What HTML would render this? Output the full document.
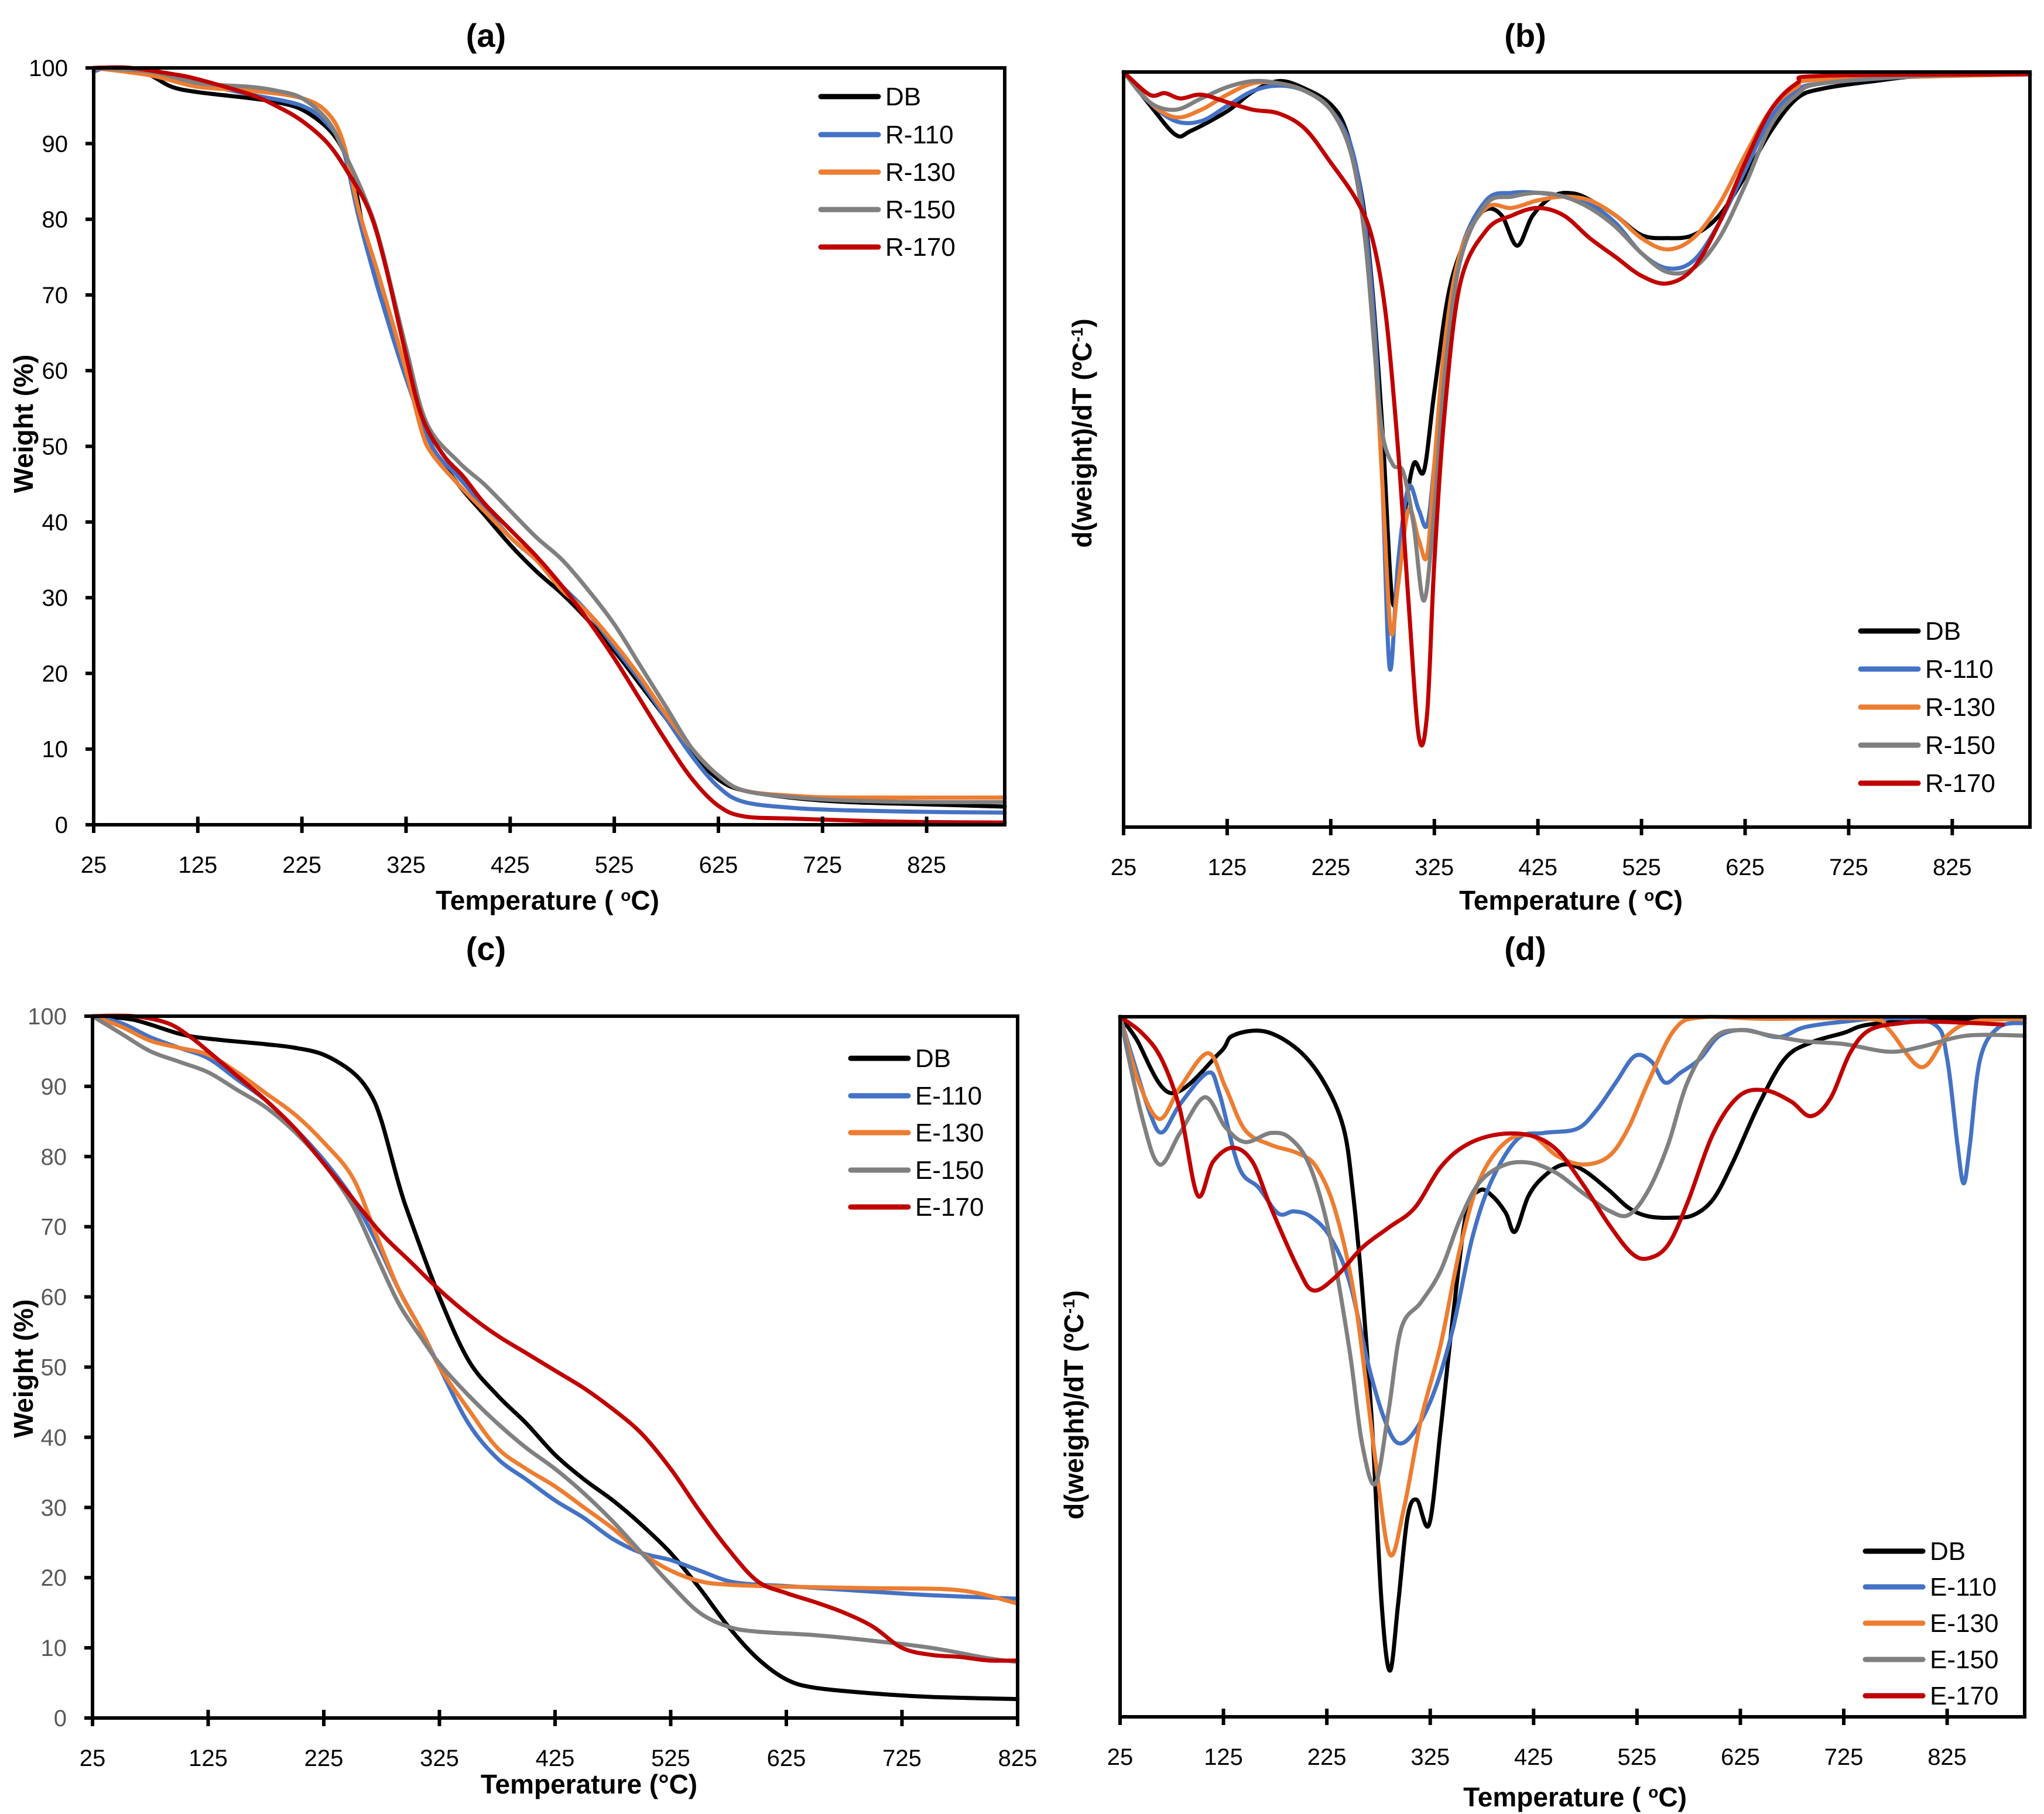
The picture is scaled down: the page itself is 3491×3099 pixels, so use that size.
<!DOCTYPE html>
<html><head><meta charset="utf-8"><style>
html,body{margin:0;padding:0;background:#fff}
svg{display:block}
text{font-family:"Liberation Sans",sans-serif}
</style></head><body>
<svg id="fig" width="3491" height="3099" viewBox="0 0 3491 3099" xmlns="http://www.w3.org/2000/svg">
<g id="root"></g>
</svg>
<script>
// ---- Panel (a) data: weight % vs temperature ----
const aDB_T=[25,60,80,100,125,175,200,225,250,265,275,285,300,325,350,375,400,425,450,475,500,525,550,575,600,625,650,700,750,825,900];
const aDB_V=[100,100,99,97.5,96.8,96,95.5,94.5,92,89,85,78,70,60,50,45,41,37,33.5,30.5,27,23,18.5,14,9.5,6,4.5,3.5,3,2.7,2.4];
const aR110_T=[25,40,80,125,175,225,250,265,280,300,325,350,375,400,425,450,475,500,525,550,575,600,625,650,700,750,825,900];
const aR110_V=[99.5,100,99.5,98,96.5,95,92.5,89,80,70,59,50,46,42,38,35,31.5,28,23.5,19,14,9,5,3,2.2,1.9,1.7,1.6];
const aR130_T=[25,80,125,175,225,250,265,280,300,325,340,350,375,400,425,450,475,500,525,550,575,600,625,650,700,750,900];
const aR130_V=[100,99,97.5,97,96,94,90,81,72,60,52,49,45,41.5,38,35,31,28,24,19.5,14.5,10,6.5,4.5,3.8,3.6,3.6];
const aR150_T=[25,80,125,175,200,225,250,265,285,300,325,345,375,400,425,450,475,500,525,550,575,600,625,650,700,750,825,900];
const aR150_V=[100,99.5,98,97.5,97,96,93,89,83,77,63,53,48,45,41.5,38,35,31,26.5,21,15.5,10,6.5,4.5,3.6,3.2,3.0,3.0];
const aR170_T=[25,60,100,125,175,200,225,250,270,290,305,325,340,360,380,400,425,450,475,500,525,550,575,600,625,650,700,800,900];
const aR170_V=[100,100,99.2,98.5,96.5,95,93,90,86,81,74,62,54,49,46,42.5,39,35.5,31.5,27,22,16.5,11,6,2.5,1.1,0.8,0.4,0.3];
const aTicksX=[25,125,225,325,425,525,625,725,825];
const aTicksY=[0,10,20,30,40,50,60,70,80,90,100];

// ---- Panel (b) data: DTG (depth below baseline, arbitrary units) ----
const bDB_T=[25,50,75,90,125,150,175,200,225,240,255,265,275,285,295,305,315,325,340,360,375,390,405,420,440,460,480,500,525,550,575,600,625,650,675,700,750,800,900];
const bDB_V=[0,4.3,8.3,7.8,5.2,2.6,1.2,2.2,4.3,7.8,16.4,28.5,47.6,70.4,59.7,51.9,52.8,42.4,28.5,20.8,18.2,19.0,23.0,19.0,16.4,16.1,17.3,19.0,21.6,22.0,21.6,19.0,13.8,7.8,3.5,2.2,1.2,0.5,0.3];
const bR110_T=[25,50,75,100,125,150,175,200,225,245,258,268,275,282,290,300,310,318,325,335,350,375,400,425,450,475,500,525,550,575,600,625,650,675,700,800,900];
const bR110_V=[0,4,6.5,6.5,4.5,2.5,1.8,2.5,5,10,20,35,55,79,65,55,58,60,52,38,24,17,16,16,16.5,17.5,20,24,26,25,20,13,6,2.5,1.5,0.5,0.3];
const bR130_T=[25,50,75,100,125,150,175,200,225,245,258,268,275,283,290,300,310,318,325,335,350,375,400,425,450,475,500,525,550,575,600,625,650,675,700,900];
const bR130_V=[0,4,6,5,3,1.5,1.5,2.5,5,11,22,38,55,74,68,58,62,64,52,36,24,18,18,17,16.5,17,19,22,23.5,22,17.5,11,5,2,1,0.3];
const bR150_T=[25,50,75,100,125,150,175,200,225,245,258,268,275,285,295,305,315,325,335,350,375,400,425,450,475,500,525,550,575,600,625,650,675,700,800,900];
const bR150_V=[0,4,5,3.5,2,1.2,1.5,2.5,5,11,22,38,48,52,53,60,70,58,40,25,17.5,16.5,16,16.5,18,20.5,24,26.5,26,22,15,7,3,1.5,0.5,0.3];
const bR170_T=[25,50,65,80,100,125,150,175,200,225,250,265,278,290,300,310,318,325,335,350,375,400,425,450,475,500,525,550,575,600,625,650,675,700,900];
const bR170_V=[0,3,2.8,3.5,3,4,5,5.5,7.5,12,17,22,32,50,70,88,85,65,45,28,21,19,18,19,22,24.5,27,28,26,20,12,5,1.5,0.5,0.3];
const bTicksX=[25,125,225,325,425,525,625,725,825];

// ---- Panel (c) data ----
const cDB_T=[25,60,100,125,175,200,225,250,265,275,290,300,325,350,375,400,425,450,475,500,525,550,575,600,625,650,700,750,825];
const cDB_V=[100,99.5,97.5,96.8,96,95.5,94.5,92,89,85,76,71,60,51,46,42,37.5,34,31,27.5,23.5,18.5,13,8.5,5.5,4.3,3.5,3,2.7];
const cE110_T=[25,50,75,100,125,150,175,200,225,250,270,290,310,325,350,375,400,425,450,475,500,525,550,575,600,625,700,750,825];
const cE110_V=[100,99,97,95.5,94,91,88,84,79.5,74,68,61,55,50,42,37,34,31,28.5,25.5,23.5,22.5,21,19.5,19,18.8,18,17.5,17];
const cE130_T=[25,50,75,100,125,150,175,200,225,250,270,290,310,325,350,375,400,425,450,475,500,525,550,575,625,700,775,825];
const cE130_V=[100,98.5,96.5,95.5,94.5,92,89,86,82,77,69,61,55,50,44,38.5,35.5,33,30,27,23.5,21,19.5,19,18.7,18.5,18.2,16.3];
const cE150_T=[25,50,75,100,125,150,175,200,225,250,270,290,310,325,350,375,400,425,450,475,500,525,550,575,600,650,700,750,800,825];
const cE150_V=[100,97.5,95,93.5,92,89.5,87,83.5,79,73,66,59,54,50.5,46,42,38.5,35.5,32,28,23.5,19,15,13,12.3,11.8,11,10,8.5,8];
const cE170_T=[25,60,90,110,125,150,175,200,225,250,275,300,325,350,375,400,425,450,475,500,525,550,575,600,625,650,675,700,725,750,775,800,825];
const cE170_V=[100,100,99,97,95,91.5,88,84,79,74,69,65,61,57.5,54.5,52,49.5,47,44,40.5,35.5,29.5,24,19.5,17.8,16.5,15,13,10,9,8.7,8.2,8.2];
const cTicksX=[25,125,225,325,425,525,625,725,825];
const cTicksY=[0,10,20,30,40,50,60,70,80,90,100];

// ---- Panel (d) data ----
const dDB_T=[25,40,74,121,134,165,197,222,241,250,259,269,278,286,294,303,312,324,335,347,360,373,385,398,407,420,435,454,473,498,517,536,561,580,599,618,643,668,693,725,750,813,900];
const dDB_V=[0,3,10.9,5.2,2.7,2.1,4.7,9.3,15.8,24.8,38.7,59,83.8,93.4,83.8,71.5,69,72.5,59,42.8,28,24.8,25.6,28,30.7,25.6,22.8,21.1,21.9,24.8,27.3,28.5,28.7,28.3,26,20.7,12.5,6,3.7,2.3,1.1,0.4,0.2];
const dE110_T=[25,39,55,66,83,110,121,140,159,178,193,209,228,247,266,281,294,310,329,347,366,385,410,435,467,486,505,523,539,552,567,586,605,630,662,687,725,769,813,825,835,841,847,857,875,900];
const dE110_V=[0,6.8,14.2,16.5,12.5,8,10.9,21.5,24.4,28.1,27.8,28.5,31.4,37.9,50.2,57.6,60.9,59.2,53.5,44.5,31.4,23.2,17.4,16.6,16,13.3,9.3,5.6,6.4,9.4,8,6,2.7,1.9,2.9,1.5,0.7,0.2,1.1,6,18.3,23.8,18.3,6,1.5,0.9];
const dE130_T=[25,43,63,83,110,127,146,171,197,215,234,253,272,286,300,316,335,354,373,398,423,448,473,498,517,536,561,586,650,750,769,800,825,850,900];
const dE130_V=[0,9.3,14.6,10.1,5.2,10.1,16.2,18.3,19.5,21.5,28.1,41.2,63.3,76.8,69.9,57.6,46.9,33,23.2,17.9,17,19.9,21.1,19.9,15.8,9.3,1.9,0.1,0.3,0.3,1.9,7.2,2.7,0.7,0.3];
const dE150_T=[25,46,63,83,107,127,146,171,190,209,228,247,259,272,285,297,316,335,354,373,398,423,448,473,498,517,536,555,574,599,624,655,687,725,769,800,844,900];
const dE150_V=[0,14.2,21.1,16.6,11.5,15.8,17.9,16.6,17.4,21.5,31.4,47.7,60.9,66.7,56,44.5,40.8,36.3,28.9,23.6,21.1,20.9,22.4,25.2,27.7,28.3,24.8,18.3,9.3,3.1,1.9,2.7,3.5,3.9,5,4.3,2.7,2.7];
const dE170_T=[25,46,65,83,100,115,134,153,171,197,212,234,259,285,310,335,360,391,423,448,473,498,520,536,555,574,599,624,649,674,693,712,731,750,781,813,879];
const dE170_V=[0,2.3,6,13.3,25.5,20.7,18.7,20.7,27.3,35.9,39.1,37.1,33,30.1,27.3,21.5,18.3,16.8,17,19.1,24,29.7,33.8,34.5,32.6,26.5,16.6,11.3,10.5,12.1,14.2,11.7,5.2,1.9,0.9,0.7,1.1];
const dTicksX=[25,125,225,325,425,525,625,725,825];

const NS='http://www.w3.org/2000/svg';
const root=document.getElementById('root');
const COL={DB:'#000000',b:'#4472C4',o:'#ED7D31',g:'#808080',r:'#C00000'};

function mk(tag,attrs,parent,txt){const e=document.createElementNS(NS,tag);for(const k in attrs)e.setAttribute(k,attrs[k]);if(txt!==undefined)e.textContent=txt;(parent||root).appendChild(e);return e;}

function smoothPath(pts){
  let d='M'+pts[0][0].toFixed(1)+','+pts[0][1].toFixed(1);
  for(let i=0;i<pts.length-1;i++){
    const p0=pts[i-1]||pts[i],p1=pts[i],p2=pts[i+1],p3=pts[i+2]||p2;
    const c1=[p1[0]+(p2[0]-p0[0])/6,p1[1]+(p2[1]-p0[1])/6];
    const c2=[p2[0]-(p3[0]-p1[0])/6,p2[1]-(p3[1]-p1[1])/6];
    d+='C'+c1[0].toFixed(1)+','+c1[1].toFixed(1)+' '+c2[0].toFixed(1)+','+c2[1].toFixed(1)+' '+p2[0].toFixed(1)+','+p2[1].toFixed(1);
  }
  return d;
}

function panel(cfg){
  const g=mk('g',{});
  
  
  const X=v=>cfg.L+(v-cfg.x0)/(cfg.x1-cfg.x0)*(cfg.R-cfg.L);
  const Y=v=>cfg.B-(v-cfg.y0)/(cfg.y1-cfg.y0)*(cfg.B-cfg.T);
  const sg=mk('g',{},g);
  cfg.series.forEach(s=>{
    const pts=s.t.map((t,i)=>[X(t),Y(cfg.dtg?-s.v[i]:s.v[i])]);
    const p=mk('path',{d:smoothPath(pts),fill:'none',stroke:s.c,'stroke-width':7,'stroke-linejoin':'round','stroke-linecap':'round'},sg);
    
    
  });
  const fr=mk('rect',{x:cfg.L,y:cfg.T,width:cfg.R-cfg.L,height:cfg.B-cfg.T,fill:'none',stroke:'#000','stroke-width':6},g);
  
  
  cfg.xt.forEach(t=>{
    const x=X(t);
    const tk=mk('line',{x1:x,x2:x,y1:cfg.B-14,y2:cfg.B+14,stroke:'#000','stroke-width':6},g);
    
    
    const lb=mk('text',{x:x,y:cfg.B+82,'font-size':40,'text-anchor':'middle',fill:'#000'},g,String(t));
    
    
  });
  if(cfg.yt){cfg.yt.forEach(t=>{
    const y=Y(t);
    const tk=mk('line',{x1:cfg.L-14,x2:cfg.L,y1:y,y2:y,stroke:'#000','stroke-width':6},g);
    
    
    const lb=mk('text',{x:cfg.L-44,y:y+14,'font-size':40,'text-anchor':'end',fill:cfg.ytc||'#000'},g,String(t));
    
    
  });}
  const ti=mk('text',{x:cfg.tx,y:cfg.ty,'font-size':56,'font-weight':'bold','text-anchor':'middle'},g,cfg.title);
  
  
  const xt=mk('text',{x:cfg.xtx,y:cfg.xty,'font-size':46,'font-weight':'bold','text-anchor':'middle'},g);
  
  
  xt.innerHTML=cfg.xtitle;
  const yt=mk('text',{x:0,y:0,'font-size':46,'font-weight':'bold','text-anchor':'middle',transform:'translate('+cfg.ytx+','+cfg.yty+') rotate(-90)'},g);
  
  
  yt.innerHTML=cfg.ytitle;
  const lg=mk('g',{},g);
  
  
  cfg.series.forEach((s,i)=>{
    const y=cfg.legY[i];
    const e=mk('g',{},lg);
    
    
    mk('line',{x1:cfg.legX0,x2:cfg.legX1,y1:y,y2:y,stroke:s.c,'stroke-width':9,'stroke-linecap':'round'},e);
    mk('text',{x:cfg.legX1+12,y:y+15,'font-size':44},e,s.n);
  });
}

const degT='Temperature ( <tspan baseline-shift="super" font-size="28">o</tspan>C)';
const dtgT='d(weight)/dT (ºC<tspan baseline-shift="super" font-size="28">-1</tspan>)';

panel({name:'panel-a',L:160,R:1716,T:116,B:1409,x0:25,x1:900,y0:0,y1:100,xt:aTicksX,yt:aTicksY,
 title:'(a)',tx:830,ty:80,xtitle:degT,xtx:935,xty:1554,ytitle:'Weight  (%)',ytx:56,yty:724,
 legX0:1402,legX1:1500,legY:[165,230,294,358,422],
 series:[{n:'DB',t:aDB_T,v:aDB_V,c:COL.DB},{n:'R-110',t:aR110_T,v:aR110_V,c:COL.b},{n:'R-130',t:aR130_T,v:aR130_V,c:COL.o},{n:'R-150',t:aR150_T,v:aR150_V,c:COL.g},{n:'R-170',t:aR170_T,v:aR170_V,c:COL.r}]});

panel({name:'panel-b',dtg:true,L:1919,R:3467,T:123,B:1413,x0:25,x1:900,y0:-100,y1:0,xt:bTicksX,
 title:'(b)',tx:2605,ty:80,xtitle:degT,xtx:2683,xty:1554,ytitle:dtgT,ytx:1864,yty:740,
 legX0:3178,legX1:3276,legY:[1078,1143,1208,1273,1338],
 series:[{n:'DB',t:bDB_T,v:bDB_V,c:COL.DB},{n:'R-110',t:bR110_T,v:bR110_V,c:COL.b},{n:'R-130',t:bR130_T,v:bR130_V,c:COL.o},{n:'R-150',t:bR150_T,v:bR150_V,c:COL.g},{n:'R-170',t:bR170_T,v:bR170_V,c:COL.r}]});

panel({name:'panel-c',L:158,R:1738,T:1736,B:2935,x0:25,x1:825,y0:0,y1:100,xt:cTicksX,yt:cTicksY,ytc:'#595959',
 title:'(c)',tx:830,ty:1640,xtitle:'Temperature (°C)',xtx:1006,xty:3064,ytitle:'Weight (%)',ytx:56,yty:2338,
 legX0:1453,legX1:1551,legY:[1808,1872,1935,1999,2062],
 series:[{n:'DB',t:cDB_T,v:cDB_V,c:COL.DB},{n:'E-110',t:cE110_T,v:cE110_V,c:COL.b},{n:'E-130',t:cE130_T,v:cE130_V,c:COL.o},{n:'E-150',t:cE150_T,v:cE150_V,c:COL.g},{n:'E-170',t:cE170_T,v:cE170_V,c:COL.r}]});

panel({name:'panel-d',dtg:true,L:1913,R:3458,T:1737,B:2933,x0:25,x1:900,y0:-100,y1:0,xt:dTicksX,
 title:'(d)',tx:2605,ty:1640,xtitle:degT,xtx:2690,xty:3086,ytitle:dtgT,ytx:1850,yty:2400,
 legX0:3186,legX1:3284,legY:[2650,2711,2773,2835,2897],
 series:[{n:'DB',t:dDB_T,v:dDB_V,c:COL.DB},{n:'E-110',t:dE110_T,v:dE110_V,c:COL.b},{n:'E-130',t:dE130_T,v:dE130_V,c:COL.o},{n:'E-150',t:dE150_T,v:dE150_V,c:COL.g},{n:'E-170',t:dE170_T,v:dE170_V,c:COL.r}]});
</script>
</body></html>
